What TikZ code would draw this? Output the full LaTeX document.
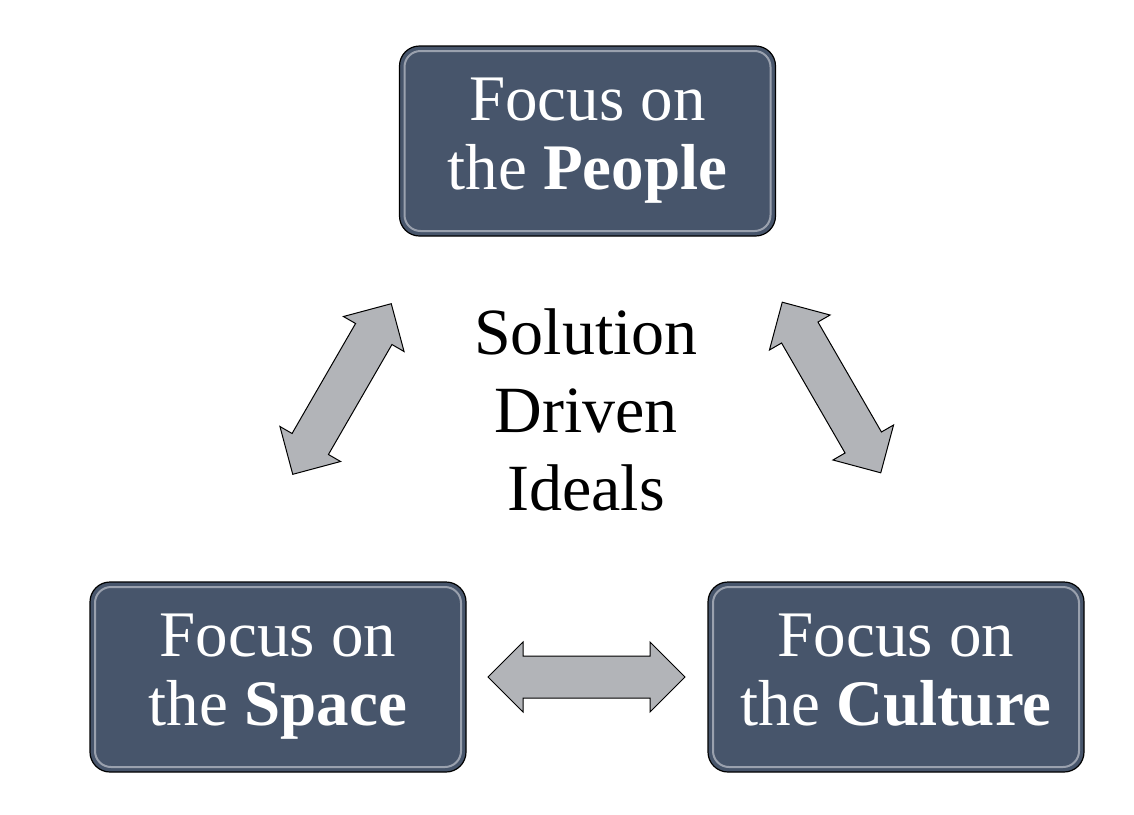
\documentclass[tikz,border=0pt]{standalone}
\usepackage{fontspec}
\setmainfont{Liberation Serif}
\usepackage{tikz}
\usetikzlibrary{shapes.arrows}
\definecolor{slate}{RGB}{71,85,107}
\definecolor{linkgrey}{RGB}{178,180,184}
\tikzstyle{focus} = [draw=black, line width=0.6pt, fill=slate, text=white, rounded corners=10pt,
  minimum width=188pt, minimum height=95pt, align=center, font=\fontsize{32.5}{34.5}\selectfont,
  execute at end node={\vphantom{p}},
  path picture={\draw[slate!55!white, line width=1pt, rounded corners=8pt]
    ([shift={(2.5pt,-2.5pt)}]path picture bounding box.north west) rectangle
    ([shift={(-2.5pt,2.5pt)}]path picture bounding box.south east);}]
\tikzstyle{link} = [double arrow, draw=black, line width=0.5pt, fill=linkgrey,
  inner xsep=0pt, inner ysep=10.25pt, minimum height=98.5pt, double arrow head extend=7pt]

\begin{document}
\begin{tikzpicture}[x=0.5pt, y=-0.5pt]
\useasboundingbox (0,0) rectangle (1134,814);

\node[focus] (people) at (587.5,141) {Focus on\\the \textbf{People}};
\node[focus] (space) at (278,677) {Focus on\\the \textbf{Space}};
\node[focus] (culture) at (896,677) {Focus on\\the \textbf{Culture}};

\node[inner sep=0pt, align=center, font=\fontsize{33}{39}\selectfont] (ideals) at (586,410) {Solution\\Driven\\Ideals};

\node[link, rotate=60] (peoplespace) at (342,389) {};
\node[link, rotate=-60] (peopleculture) at (831.5,387.5) {};
\node[link] (spaceculture) at (586.5,677) {};
\end{tikzpicture}
\end{document}
